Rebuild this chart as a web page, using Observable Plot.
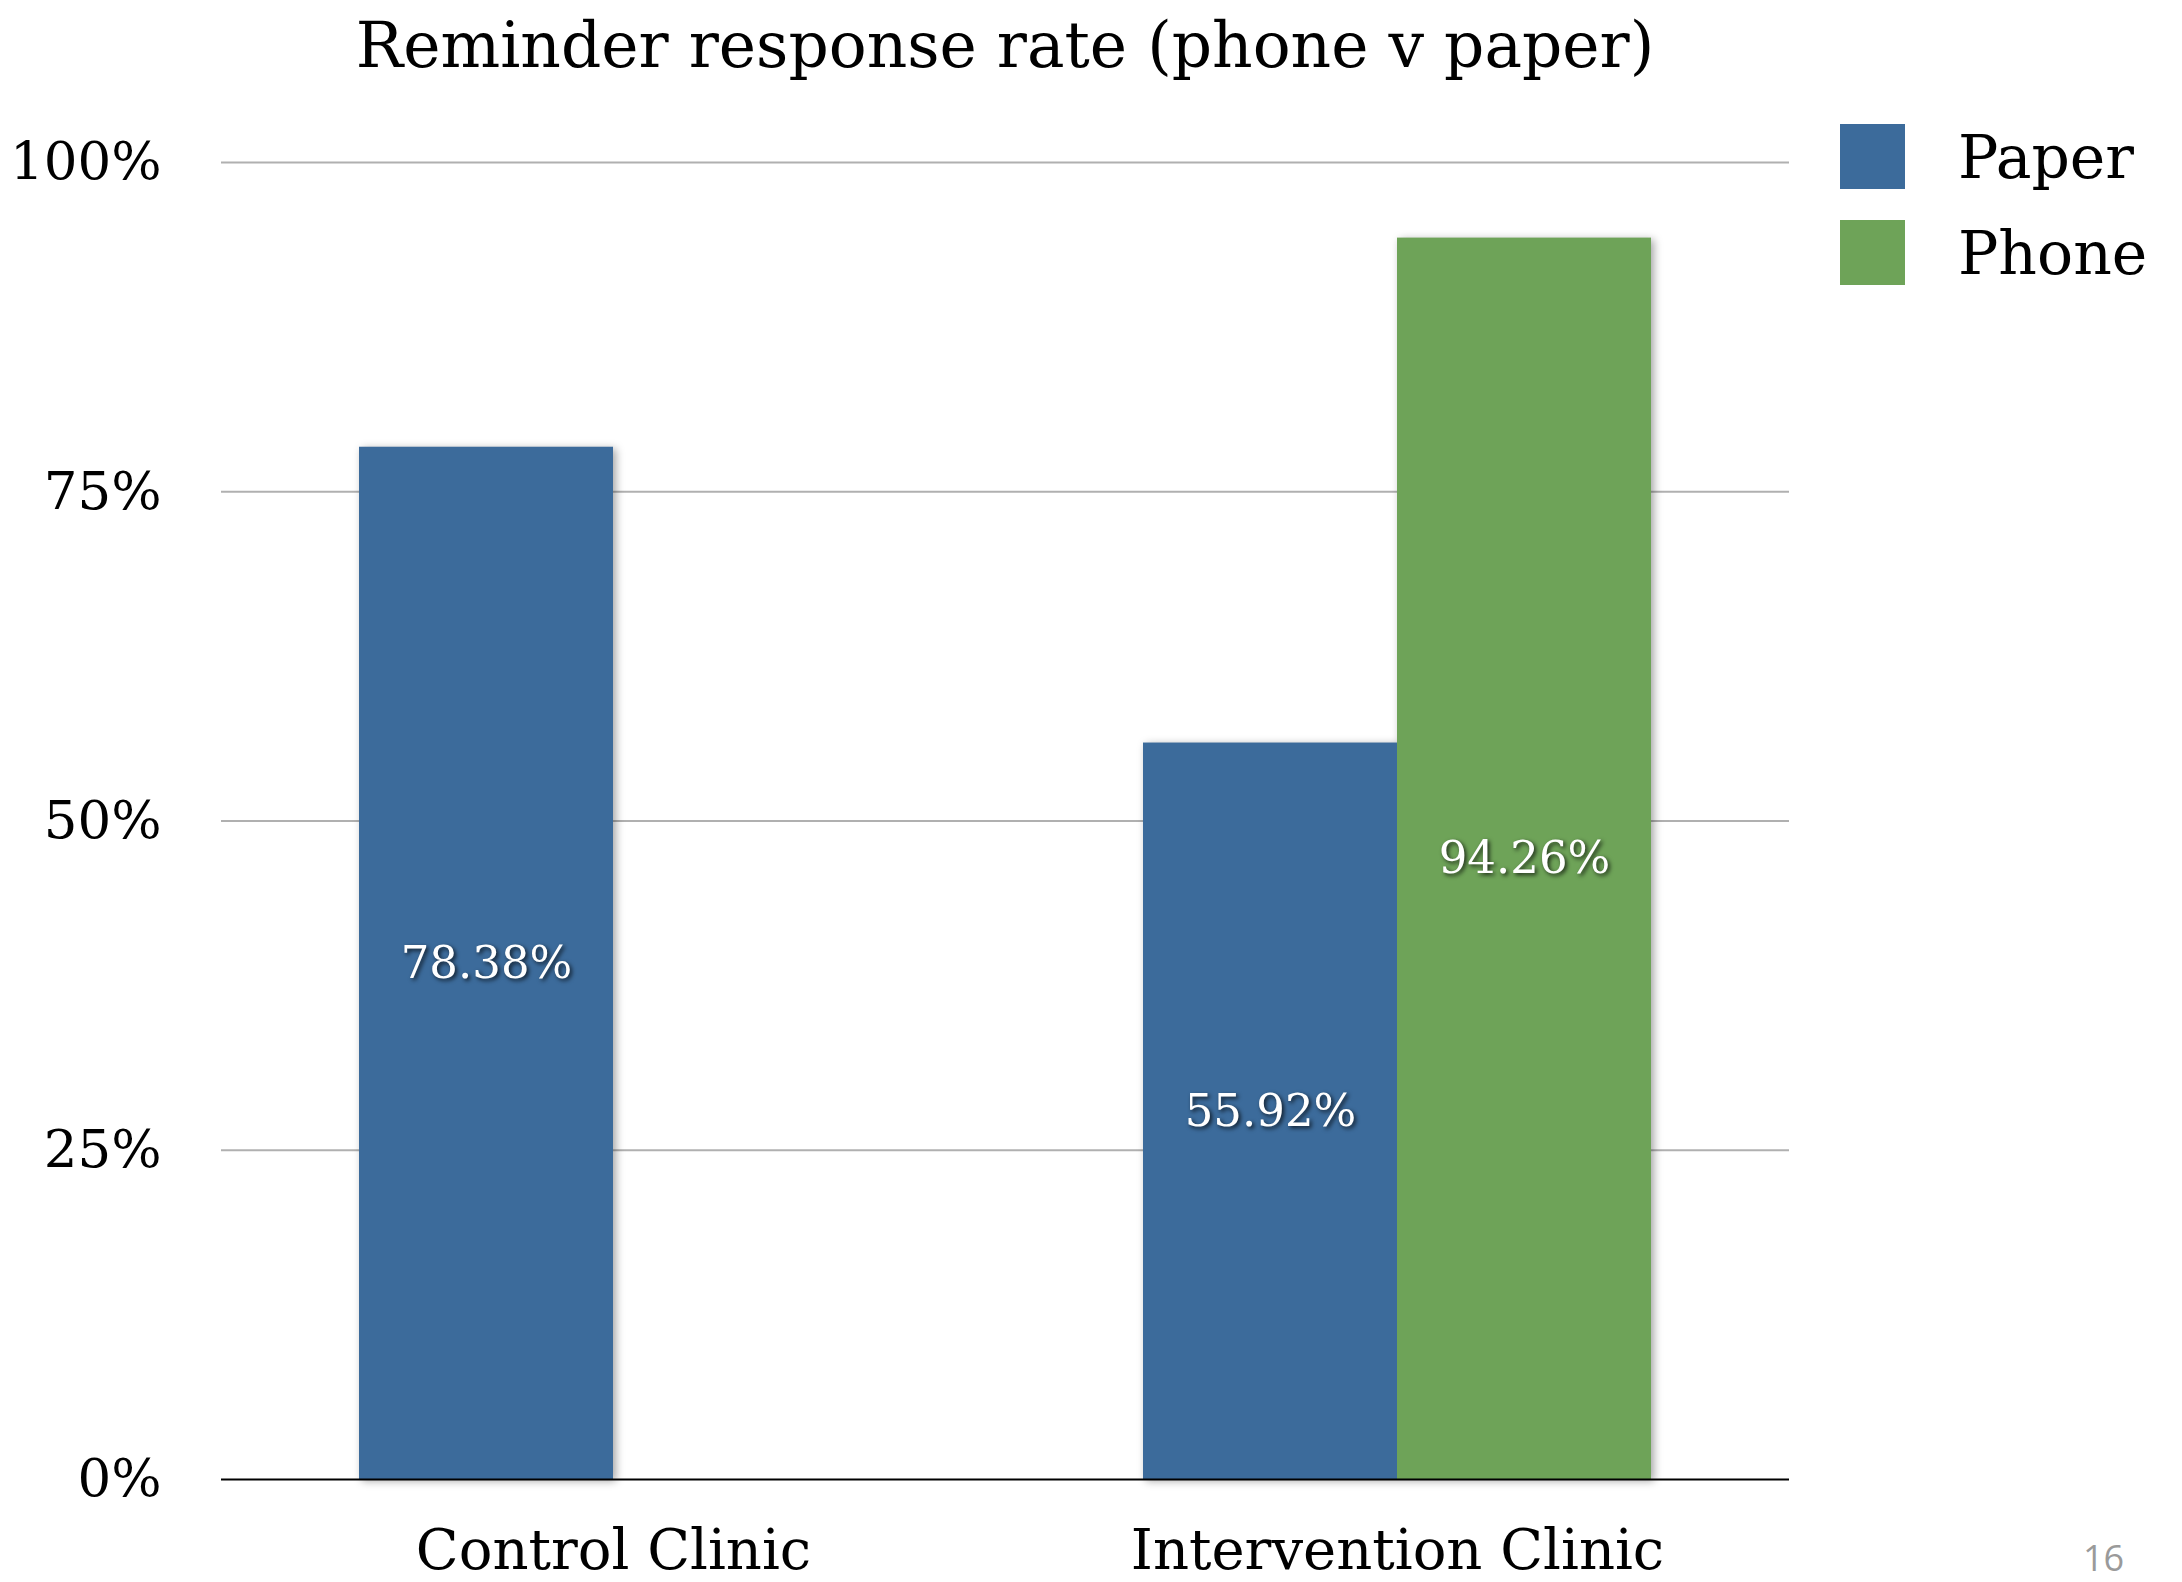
<!DOCTYPE html>
<html>
<head>
<meta charset="utf-8">
<script src="https://cdn.jsdelivr.net/npm/d3@7"></script>
<script src="https://cdn.jsdelivr.net/npm/@observablehq/plot@0.6"></script>
<style>
  html, body { margin: 0; padding: 0; background: #fff; }
  #page { position: relative; width: 2182px; height: 1582px; overflow: hidden; font-family: "DejaVu Serif", serif; }
  #title { position: absolute; left: 0; top: 14px; width: 2010px; text-align: center; font-size: 63px; line-height: 63px; color: #000; }
  #chart { position: absolute; left: 0; top: 110px; }
  #legend { position: absolute; left: 1840px; top: 124px; }
  .item { display: flex; align-items: center; height: 65px; margin-bottom: 31px; }
  .swatch { width: 65px; height: 65px; margin-right: 53px; }
  .lab { font-size: 60px; line-height: 60px; color: #000; }
  #pagenum { position: absolute; left: 2083px; top: 1538px; font-family: "Open Sans", sans-serif; font-size: 36px; line-height: 40px; color: #9a9a9a; }
  g[aria-label="bar"] { filter: drop-shadow(3px 2px 4px rgba(0,0,0,0.35)); }
  g[aria-label="text"] { filter: drop-shadow(2px 2px 2px rgba(0,0,0,0.75)); }
</style>
</head>
<body>
<div id="page">
  <div id="title">Reminder response rate (phone v paper)</div>
  <div id="chart"></div>
  <div id="legend"></div>
  <div id="pagenum">16</div>
</div>
<script>
const categories = ["Control Clinic", "Intervention Clinic"];
const series = ["Paper", "Phone"];
const paperValues = [0.7838, 0.5592];
const phoneValues = [null, 0.9426];
const yTicks = [0, 0.25, 0.5, 0.75, 1];
const seriesColors = ["#3c6b9b", "#6ea358"];

const data = [];
categories.forEach((c, i) => {
  [paperValues, phoneValues].forEach((vals, j) => {
    if (vals[i] != null) data.push({category: c, series: series[j], value: vals[i]});
  });
});

const pct = d3.format(".0%");
const pct2 = d3.format(".2%");

const chart = Plot.plot({
  width: 2182,
  height: 1472,
  marginTop: 52,
  marginBottom: 103,
  marginLeft: 220,
  marginRight: 393,
  style: {fontFamily: "DejaVu Serif", fontSize: "56px", color: "#000", background: "transparent"},
  fx: {domain: categories, padding: 0, label: null},
  x: {domain: series, paddingInner: 0, paddingOuter: 0.54, axis: null},
  y: {domain: [0, 1], label: null},
  color: {domain: series, range: seriesColors},
  marks: [
    Plot.ruleY(yTicks.filter(d => d > 0), {stroke: "#b0b0b0", strokeWidth: 2}),
    Plot.barY(data, {fx: "category", x: "series", y: "value", fill: "series"}),
    Plot.ruleY([0], {stroke: "#000", strokeWidth: 2}),
    Plot.text(data, {fx: "category", x: "series", y: d => d.value / 2, text: d => pct2(d.value), fill: "white", fontSize: 45}),
    Plot.axisY({ticks: yTicks, tickFormat: pct, tickSize: 0, tickPadding: 60, fontSize: 53, label: null}),
    Plot.axisFx({anchor: "bottom", tickSize: 0, tickPadding: 50, fontSize: 56, label: null})
  ]
});
document.getElementById("chart").appendChild(chart);

const legend = d3.select("#legend");
series.forEach((s, i) => {
  const it = legend.append("div").attr("class", "item");
  it.append("div").attr("class", "swatch").style("background", seriesColors[i]);
  it.append("div").attr("class", "lab").text(s);
});
</script>
</body>
</html>
